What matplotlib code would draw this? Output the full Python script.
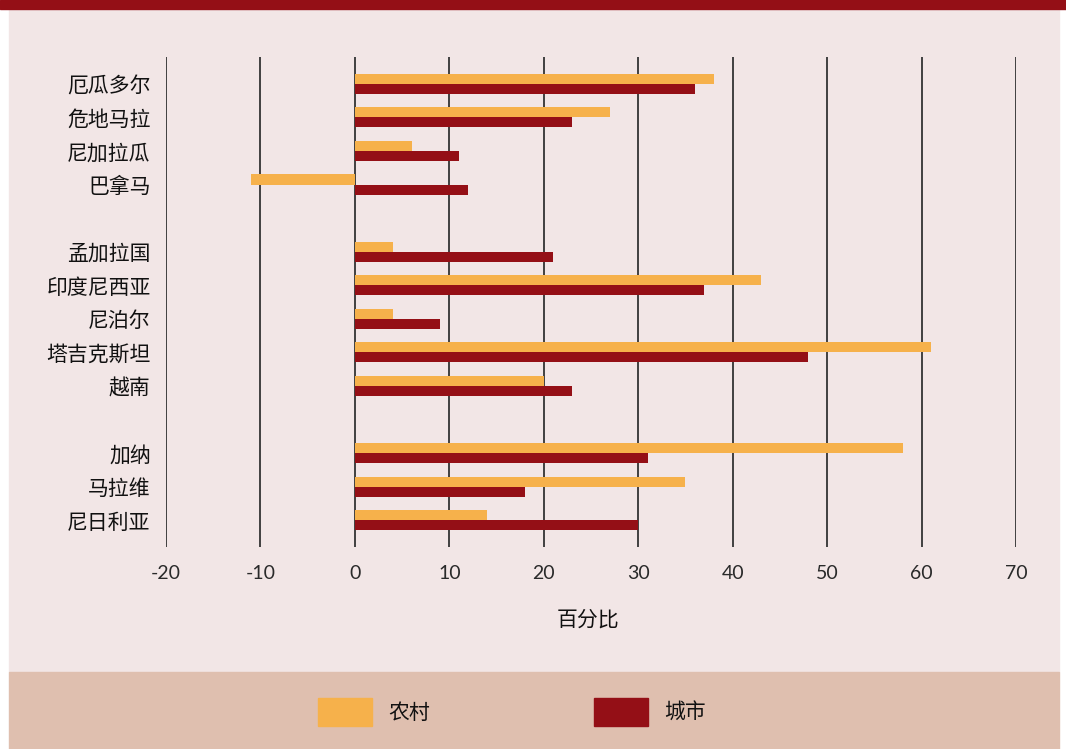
import matplotlib.pyplot as plt
from matplotlib.patches import Rectangle

plt.rcParams['font.family'] = ['Noto Sans CJK SC', 'DejaVu Sans']

# country groups, top to bottom (None = blank spacer row)
countries = ["厄瓜多尔", "危地马拉", "尼加拉瓜", "巴拿马", None,
             "孟加拉国", "印度尼西亚", "尼泊尔", "塔吉克斯坦", "越南", None,
             "加纳", "马拉维", "尼日利亚"]
rural = [38, 27, 6, -11, 4, 43, 4, 61, 20, 58, 35, 14]
urban = [36, 23, 11, 12, 21, 37, 9, 48, 23, 31, 18, 30]
xticks = [-20, -10, 0, 10, 20, 30, 40, 50, 60, 70]

c_rural = "#F6B14B"
c_urban = "#940F16"
bg = "#F2E6E6"
band = "#DFBFAF"

fig = plt.figure(figsize=(10.66, 7.49), dpi=100)
fig.patch.set_facecolor("white")

# background panels
fig.add_artist(Rectangle((9/1066, 77/749), 1050/1066, 663/749,
                         transform=fig.transFigure, color=bg, zorder=-5))
fig.add_artist(Rectangle((9/1066, 0), 1050/1066, 77/749,
                         transform=fig.transFigure, color=band, zorder=-5))
fig.add_artist(Rectangle((0, 740/749), 1, 9/749,
                         transform=fig.transFigure, color=c_urban, zorder=-5))

ax = fig.add_axes([166/1066, 1 - 547/749, 850/1066, 490/749])
ax.set_facecolor("none")

ypos = [i for i, c in enumerate(countries) if c is not None]
labels = [c for c in countries if c is not None]
h = 0.3
ax.barh([y - h/2 for y in ypos], rural, height=h, color=c_rural, zorder=3)
ax.barh([y + h/2 for y in ypos], urban, height=h, color=c_urban, zorder=3)

ax.set_xlim(-20, 70)
ax.set_ylim(13.8, -0.8)
ax.set_xticks(xticks)
ax.set_xticklabels([str(t) for t in xticks], fontsize=14, color="#2a2a2a",
                   family=['Lato', 'DejaVu Sans'])
ax.set_yticks(ypos)
ax.set_yticklabels(labels, fontsize=15, color="#111111", fontweight='medium')
ax.tick_params(axis='y', length=0, pad=11)
ax.tick_params(axis='x', length=0, pad=13)

for t in xticks:
    ax.axvline(t, color="#333333", lw=1.3, zorder=1)
for s in ax.spines.values():
    s.set_visible(False)

ax.set_xlabel("百分比", fontsize=15, color="#111111", fontweight='medium')
ax.xaxis.set_label_coords(0.497, -0.125)

# legend in the bottom band
lw, lh = 54/1066, 28/749
fig.add_artist(Rectangle((318/1066, 1 - 726/749), lw, lh,
                         transform=fig.transFigure, color=c_rural))
fig.text(388/1066, 1 - 713/749, "农村", fontsize=15, va='center',
         color="#111111", fontweight='medium')
fig.add_artist(Rectangle((594/1066, 1 - 726/749), lw, lh,
                         transform=fig.transFigure, color=c_urban))
fig.text(664/1066, 1 - 713/749, "城市", fontsize=15, va='center',
         color="#111111", fontweight='medium')

fig.savefig("out.png", dpi=100, facecolor=fig.get_facecolor())
